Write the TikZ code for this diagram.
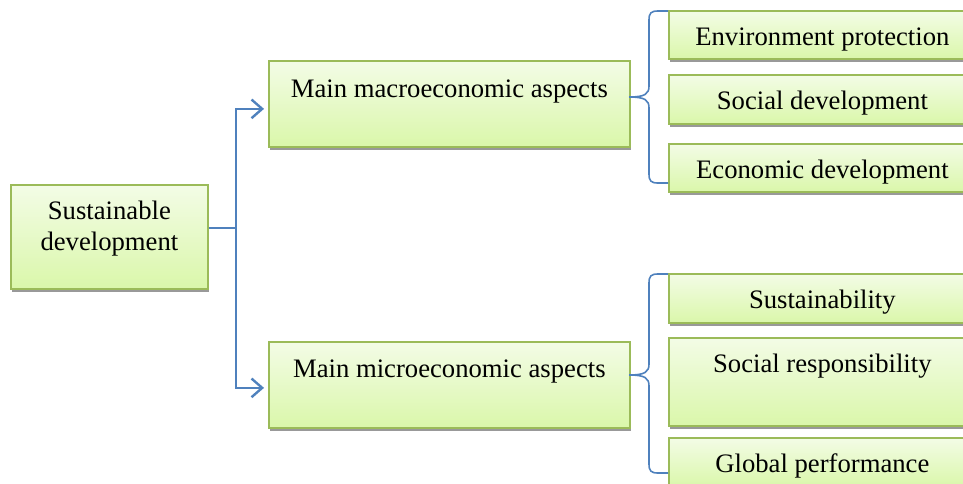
\documentclass[tikz,border=0pt]{standalone}
\usepackage{fontspec}
\setmainfont{Liberation Serif}
\usetikzlibrary{arrows.meta,shadows}

\definecolor{boxline}{RGB}{155,187,89}
\definecolor{boxtop}{RGB}{243,252,230}
\definecolor{boxbot}{RGB}{218,247,170}
\definecolor{connblue}{RGB}{79,129,189}

\tikzset{every picture/.style={line width=0.75pt}}
\tikzset{
  greenbox/.style={draw=boxline, line width=1.3pt, top color=boxtop, bottom color=boxbot,
    anchor=north west, inner ysep=0pt, text height=26pt, align=center,
    font=\fontsize{20}{23.25}\selectfont,
    drop shadow={shadow xshift=1pt, shadow yshift=-2.5pt, fill=black!40, opacity=1}},
  sidebox/.style={greenbox, minimum width=230.25pt},
  mainbox/.style={greenbox, minimum width=270.75pt},
  conn/.style={draw=connblue, line width=1.8pt},
  bracel/.style={draw=connblue, line width=1.2pt},
}

\begin{document}
\begin{tikzpicture}[x=0.75pt,y=0.75pt,yscale=-1,xscale=1]
\useasboundingbox (0,0) rectangle (963,483);

% Root box
\node [greenbox, minimum width=147.75pt, text height=49.5pt, text depth=28.5pt] (root) at (10,184) {Sustainable\\development};

% Main boxes
\node [mainbox, text height=27.75pt, text depth=36.75pt] (macro) at (268,60) {Main macroeconomic aspects};
\node [mainbox, text height=27pt, text depth=37.5pt] (micro) at (268,341) {Main microeconomic aspects};

% Macro side boxes
\node [sidebox, text depth=10pt] (env) at (668,10) {Environment protection};
\node [sidebox, text depth=10.75pt] (socdev) at (668,74) {Social development};
\node [sidebox, text depth=10pt] (econ) at (668,143) {Economic development};

% Micro side boxes
\node [sidebox, text depth=10.75pt] (sust) at (668,273) {Sustainability};
\node [sidebox, text depth=40pt] (resp) at (668,337) {Social responsibility};
\node [sidebox, text depth=10.75pt] (glob) at (668,437) {Global performance};

% Fork connector
\coordinate (fork) at (236,228);
\draw [conn] (root.east |- fork) -- (fork) ;
\draw [conn, -{Straight Barb[length=8pt,width=14pt,line width=1.8pt]}, shorten >=3pt] (fork) |- ([yshift=3.75pt]macro.west) ;
\draw [conn, -{Straight Barb[length=8pt,width=14pt,line width=1.8pt]}, shorten >=3pt] (fork) |- ([yshift=2.25pt]micro.west) ;

% Brace for macro side
\coordinate (bmacro) at (629,97);
\draw [bracel] (668,11) -- (658,11) .. controls (651,11) and (649,13) .. (649,20) -- (649,86) .. controls (649,94) and (645,97) .. (bmacro) ;
\draw [bracel] (bmacro) .. controls (645,97) and (649,100) .. (649,108) -- (649,174) .. controls (649,181) and (651,183) .. (658,183) -- (668,183) ;

% Brace for micro side
\coordinate (bmicro) at (629,375);
\draw [bracel] (668,274) -- (658,274) .. controls (651,274) and (649,276) .. (649,283) -- (649,364) .. controls (649,372) and (645,375) .. (bmicro) ;
\draw [bracel] (bmicro) .. controls (645,375) and (649,378) .. (649,386) -- (649,464) .. controls (649,471) and (651,473) .. (658,473) -- (668,473) ;

\end{tikzpicture}
\end{document}
